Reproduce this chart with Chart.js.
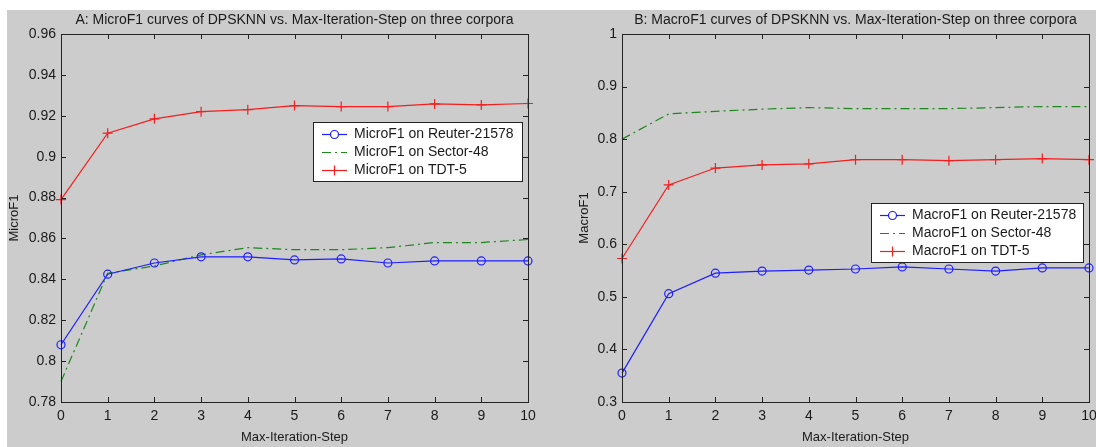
<!DOCTYPE html>
<html>
<head>
<meta charset="utf-8">
<script src="https://cdn.jsdelivr.net/npm/chart.js@4.4.1/dist/chart.umd.min.js"></script>
<style>
    html, body { margin: 0; padding: 0; background: #ffffff; }
    body { width: 1096px; height: 447px; position: relative; overflow: hidden; }
    .figure { position: absolute; left: 7px; top: 10px; width: 1089px; height: 437px; background: #cccccc; }
    .panel { position: absolute; top: 10px; height: 437px; }
    #panelA { left: 7px; width: 541px; }
    #panelB { left: 548px; width: 548px; }
</style>
</head>
<body>
<div class="figure"></div>
<div class="panel" id="panelA"><canvas id="microChart"></canvas></div>
<div class="panel" id="panelB"><canvas id="macroChart"></canvas></div>
<script>
// x values (Max-Iteration-Step)
const steps = [0, 1, 2, 3, 4, 5, 6, 7, 8, 9, 10];

// A: MicroF1
const microReuters = [0.808, 0.8425, 0.848, 0.851, 0.851, 0.8495, 0.850, 0.848, 0.849, 0.849, 0.849];
const microSector = [0.790, 0.843, 0.8465, 0.852, 0.8555, 0.8545, 0.8545, 0.8555, 0.858, 0.858, 0.8595];
const microTdt = [0.879, 0.9115, 0.9185, 0.922, 0.923, 0.925, 0.9245, 0.9245, 0.9258, 0.9253, 0.926];

// B: MacroF1
const macroReuters = [0.355, 0.506, 0.545, 0.549, 0.551, 0.553, 0.557, 0.553, 0.549, 0.555, 0.555];
const macroSector = [0.800, 0.848, 0.853, 0.857, 0.860, 0.858, 0.858, 0.858, 0.860, 0.862, 0.862];
const macroTdt = [0.573, 0.713, 0.745, 0.751, 0.753, 0.761, 0.761, 0.759, 0.761, 0.763, 0.761];

const BLUE = 'rgb(30, 30, 255)';
const GREEN = 'rgb(30, 135, 30)';
const RED = 'rgb(245, 30, 30)';
const INK = '#1a1a1a';
const FONT = 'Liberation Sans, Arial, sans-serif';

function toPoints(values) {
    return steps.map((s, i) => ({ x: s, y: values[i] }));
}

// draws the axes box with inward ticks, matlab style
const matlabFrame = {
    id: 'matlabFrame',
    afterDatasetsDraw(chart) {
        const { ctx, chartArea: a, scales: { x, y } } = chart;
        const len = 5;
        ctx.save();
        ctx.strokeStyle = '#222';
        ctx.lineWidth = 1;
        ctx.beginPath();
        x.ticks.forEach(t => {
            const px = Math.round(x.getPixelForValue(t.value)) + 0.5;
            ctx.moveTo(px, a.bottom); ctx.lineTo(px, a.bottom - len);
            ctx.moveTo(px, a.top); ctx.lineTo(px, a.top + len);
        });
        y.ticks.forEach(t => {
            const py = Math.round(y.getPixelForValue(t.value)) + 0.5;
            ctx.moveTo(a.left, py); ctx.lineTo(a.left + len, py);
            ctx.moveTo(a.right, py); ctx.lineTo(a.right - len, py);
        });
        ctx.stroke();
        ctx.strokeRect(Math.round(a.left) + 0.5, Math.round(a.top) + 0.5,
            Math.round(a.width), Math.round(a.height));
        ctx.restore();
    },
    afterDraw(chart, args, opts) {
        // legend box
        const { ctx } = chart;
        const box = opts.box;
        if (!box) return;
        ctx.save();
        ctx.fillStyle = '#ffffff';
        ctx.fillRect(box.x, box.y, box.w, box.h);
        ctx.strokeStyle = '#222';
        ctx.lineWidth = 1;
        ctx.strokeRect(box.x + 0.5, box.y + 0.5, box.w, box.h);
        ctx.font = '14px ' + FONT;
        ctx.textBaseline = 'middle';
        chart.data.datasets.forEach((ds, i) => {
            const ry = box.y + 12.5 + i * 18;
            const x0 = box.x + 9, x1 = box.x + 34;
            ctx.strokeStyle = ds.borderColor;
            ctx.lineWidth = ds.borderWidth;
            ctx.setLineDash(ds.borderDash || []);
            ctx.beginPath();
            ctx.moveTo(x0, ry); ctx.lineTo(x1, ry);
            ctx.stroke();
            ctx.setLineDash([]);
            if (ds.pointRadius > 0) {
                Chart.helpers.drawPoint(ctx, {
                    pointStyle: ds.pointStyle,
                    radius: ds.pointRadius,
                    borderWidth: ds.pointBorderWidth || 1,
                    rotation: 0
                }, (x0 + x1) / 2, ry);
            }
            ctx.fillStyle = INK;
            ctx.fillText(ds.label, box.x + 41, ry);
        });
        ctx.restore();
    }
};

function makeDatasets(prefix, reuters, sector, tdt) {
    return [{
            label: prefix + ' on Reuter-21578',
            data: toPoints(reuters),
            borderColor: BLUE,
            backgroundColor: 'transparent',
            borderWidth: 1.2,
            pointStyle: 'circle',
            pointRadius: 4,
            pointBorderWidth: 1.2,
            pointBorderColor: BLUE,
            pointBackgroundColor: 'transparent',
            clip: false
        },
        {
            label: prefix + ' on Sector-48',
            data: toPoints(sector),
            borderColor: GREEN,
            backgroundColor: 'transparent',
            borderWidth: 1.2,
            borderDash: [9, 4, 2, 4],
            pointRadius: 0,
            clip: false
        },
        {
            label: prefix + ' on TDT-5',
            data: toPoints(tdt),
            borderColor: RED,
            backgroundColor: 'transparent',
            borderWidth: 1.2,
            pointStyle: 'cross',
            pointRadius: 5,
            pointBorderWidth: 1.2,
            pointBorderColor: RED,
            clip: false
        }
    ];
}

function makeChart(canvasId, opts) {
    const ctx = document.getElementById(canvasId).getContext('2d');
    return new Chart(ctx, {
        type: 'line',
        data: { datasets: makeDatasets(opts.prefix, opts.reuters, opts.sector, opts.tdt) },
        options: {
            responsive: true,
            maintainAspectRatio: false,
            animation: false,
            events: [],
            layout: { padding: { left: 0, right: opts.rightPad, top: 0, bottom: 0 } },
            plugins: {
                legend: { display: false },
                tooltip: { enabled: false },
                title: {
                    display: true,
                    fullSize: false,
                    text: opts.title,
                    color: INK,
                    font: { family: FONT, size: 14, weight: 'normal' },
                    padding: { top: 2, bottom: 5.2 }
                },
                matlabFrame: { box: opts.legendBox }
            },
            scales: {
                x: {
                    type: 'linear',
                    min: 0,
                    max: 10,
                    // fixed axis height, and let the last label run past the edge
                    afterFit: s => { s.height = 45; s.paddingRight = 0; s.paddingLeft = 0; },
                    grid: { display: false, drawTicks: false },
                    border: { display: false },
                    ticks: { stepSize: 1, color: INK, padding: 6, font: { family: FONT, size: 14 } },
                    title: {
                        display: true,
                        text: 'Max-Iteration-Step',
                        color: INK,
                        font: { family: FONT, size: 13 },
                        padding: { top: 0, bottom: 1.5 }
                    }
                },
                y: {
                    min: opts.yMin,
                    max: opts.yMax,
                    afterFit: s => { s.width = opts.yWidth; },
                    grid: { display: false, drawTicks: false },
                    border: { display: false },
                    ticks: {
                        stepSize: opts.yStep,
                        color: INK,
                        padding: 5,
                        font: { family: FONT, size: 14 },
                        callback: v => String(Number(v.toFixed(2)))
                    },
                    title: {
                        display: true,
                        text: opts.prefix,
                        color: INK,
                        font: { family: FONT, size: 13 },
                        padding: { top: opts.yTitlePad, bottom: 0 }
                    }
                }
            }
        },
        plugins: [matlabFrame]
    });
}

document.addEventListener('DOMContentLoaded', function() {
    makeChart('microChart', {
        prefix: 'MicroF1',
        title: 'A: MicroF1 curves of DPSKNN vs. Max-Iteration-Step on three corpora',
        reuters: microReuters, sector: microSector, tdt: microTdt,
        yMin: 0.78, yMax: 0.96, yStep: 0.02,
        yWidth: 54, rightPad: 20, yTitlePad: 0,
        legendBox: { x: 306, y: 112, w: 209, h: 59 }
    });
    makeChart('macroChart', {
        prefix: 'MacroF1',
        title: 'B: MacroF1 curves of DPSKNN vs. Max-Iteration-Step on three corpora',
        reuters: macroReuters, sector: macroSector, tdt: macroTdt,
        yMin: 0.3, yMax: 1, yStep: 0.1,
        yWidth: 74, rightPad: 7, yTitlePad: 29,
        legendBox: { x: 323, y: 193, w: 212, h: 59 }
    });
});
</script>
</body>
</html>
